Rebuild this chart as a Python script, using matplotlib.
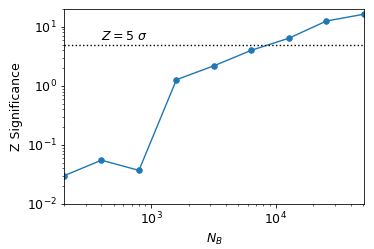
import numpy as np
import matplotlib
matplotlib.use("Agg")
import matplotlib.pyplot as plt

# data
n_b = [200, 400, 800, 1600, 3200, 6400, 12800, 25600, 51200]
z_sig = [0.030, 0.055, 0.037, 1.27, 2.18, 4.0, 6.4, 12.5, 16.3]
z_threshold = 5

fig, ax = plt.subplots(figsize=(374 / 72, 249 / 72), dpi=72)
fig.subplots_adjust(left=0.171, right=0.973, top=0.964, bottom=0.181)

ax.plot(n_b, z_sig, "o-", color="#1f77b4", markersize=5.5, linewidth=1.4)
ax.axhline(z_threshold, color="black", linestyle=":", linewidth=1.4)
ax.text(400, 5.9, r"$Z = 5\ \sigma$", fontsize=12.5)

ax.set_xscale("log")
ax.set_yscale("log")
ax.set_xlim(200, 51200)
ax.set_ylim(1e-2, 20)
ax.set_xlabel(r"$N_B$", fontsize=12.5)
ax.set_ylabel("Z Significance", fontsize=12.5)
ax.tick_params(labelsize=12.5)

fig.savefig("out.png", dpi=72)
